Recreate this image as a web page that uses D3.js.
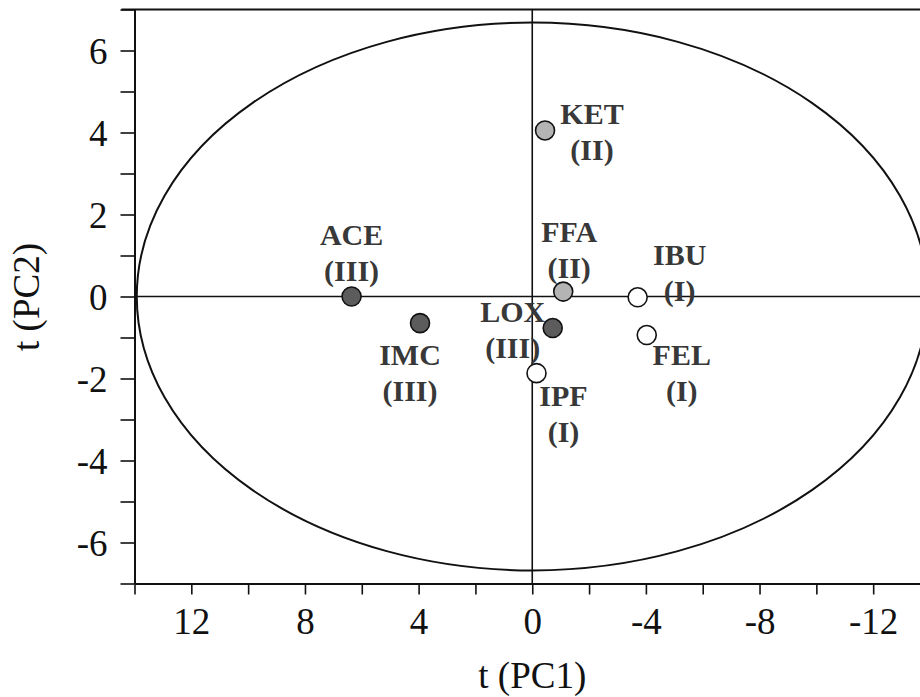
<!DOCTYPE html>
<html>
<head>
<meta charset="utf-8">
<script src="https://cdn.jsdelivr.net/npm/d3@7/dist/d3.min.js"></script>
<style>
  html, body { margin: 0; padding: 0; background: #fff; }
  svg { display: block; }
</style>
</head>
<body>
<svg id="chart" width="920" height="697"></svg>
<script>
// Sample scores on the first two principal components
const names   = ["ACE", "IMC", "LOX", "KET", "FFA", "IBU", "FEL", "IPF"];
const classes = ["III", "III", "III", "II", "II", "I", "I", "I"];
const pc1     = [6.36, 3.95, -0.72, -0.45, -1.09, -3.71, -4.03, -0.15];
const pc2     = [0.00, -0.65, -0.77, 4.05, 0.12, -0.02, -0.94, -1.87];

// Tick values
const xTickLabels = [12, 8, 4, 0, -4, -8, -12];
const yTickLabels = [-6, -4, -2, 0, 2, 4, 6];

// Hotelling T2 ellipse semi-axes (score units)
const ellipseRx = 13.92;
const ellipseRy = 6.68;

// Label placement relative to each point (px): [dx, dy of first line]
const labelOffsets = [[0, -52], [-10, 42], [-40, -6], [47, -6], [6, -50], [42, -32], [35, 30], [27, 33]];

const classFill = { "I": "#ffffff", "II": "#b4b4b4", "III": "#5c5c5c" };

const svg = d3.select("#chart");
const x = d3.scaleLinear().domain([14, -14]).range([134.5, 930]);
const y = d3.scaleLinear().domain([-7, 7]).range([583.5, 9.5]);

const serif = "'Liberation Serif', 'Times New Roman', serif";

// Ellipse
svg.append("ellipse")
  .attr("cx", x(0)).attr("cy", y(0))
  .attr("rx", x(0) - x(ellipseRx))
  .attr("ry", y(0) - y(ellipseRy))
  .attr("fill", "none").attr("stroke", "#111").attr("stroke-width", 2);

// Zero lines
svg.append("line")
  .attr("x1", x(14)).attr("x2", x(-14)).attr("y1", y(0)).attr("y2", y(0))
  .attr("stroke", "#111").attr("stroke-width", 1.6);
svg.append("line")
  .attr("x1", x(0)).attr("x2", x(0)).attr("y1", y(7)).attr("y2", y(-7))
  .attr("stroke", "#111").attr("stroke-width", 1.6);

// Top frame line
svg.append("line")
  .attr("x1", x(14) - 13).attr("x2", x(-14)).attr("y1", y(7)).attr("y2", y(7))
  .attr("stroke", "#111").attr("stroke-width", 2);

// Bottom axis
const xAxis = d3.axisBottom(x)
  .tickValues(d3.range(14, -15, -2))
  .tickSize(11).tickSizeOuter(0)
  .tickFormat(d => xTickLabels.includes(d) ? String(d) : "");
const gx = svg.append("g").attr("transform", `translate(0,${y(-7)})`).call(xAxis);
gx.select(".domain").attr("stroke", "#111").attr("stroke-width", 2);
gx.selectAll(".tick line").attr("stroke", "#111").attr("stroke-width", 1.6);
gx.selectAll(".tick text")
  .attr("y", 0).attr("dy", null)
  .attr("transform", "translate(0,50)")
  .attr("font-family", serif).attr("font-size", 37).attr("fill", "#111");

// Left axis
const yAxis = d3.axisLeft(y)
  .tickValues(d3.range(-7, 8, 1))
  .tickSize(14).tickSizeOuter(0)
  .tickFormat(d => yTickLabels.includes(d) ? String(d) : "");
const gy = svg.append("g").attr("transform", `translate(${x(14)},0)`).call(yAxis);
gy.select(".domain").attr("stroke", "#111").attr("stroke-width", 2);
gy.selectAll(".tick line").attr("stroke", "#111").attr("stroke-width", 1.6);
gy.selectAll(".tick text")
  .attr("x", -27).attr("dy", "0.34em")
  .attr("font-family", serif).attr("font-size", 37).attr("fill", "#111");

// Axis titles
svg.append("text")
  .attr("x", x(0)).attr("y", 688)
  .attr("text-anchor", "middle")
  .attr("font-family", serif).attr("font-size", 37).attr("fill", "#111")
  .text("t (PC1)");
svg.append("text")
  .attr("transform", "translate(39,297) rotate(-90)")
  .attr("text-anchor", "middle")
  .attr("font-family", serif).attr("font-size", 37).attr("fill", "#111")
  .text("t (PC2)");

// Points
const pts = names.map((n, i) => ({ name: n, cls: classes[i], px: pc1[i], py: pc2[i], off: labelOffsets[i] }));

svg.append("g").selectAll("circle").data(pts).join("circle")
  .attr("cx", d => x(d.px)).attr("cy", d => y(d.py))
  .attr("r", 9.5)
  .attr("fill", d => classFill[d.cls])
  .attr("stroke", "#111").attr("stroke-width", 1.6);

// Labels: name and class on two lines
const lbl = svg.append("g").selectAll("text").data(pts).join("text")
  .attr("text-anchor", "middle")
  .attr("font-family", serif).attr("font-weight", "bold").attr("font-size", 30)
  .attr("fill", "#383838");
lbl.append("tspan")
  .attr("x", d => x(d.px) + d.off[0]).attr("y", d => y(d.py) + d.off[1])
  .text(d => d.name);
lbl.append("tspan")
  .attr("x", d => x(d.px) + d.off[0]).attr("y", d => y(d.py) + d.off[1] + 36)
  .text(d => "(" + d.cls + ")");
</script>
</body>
</html>
